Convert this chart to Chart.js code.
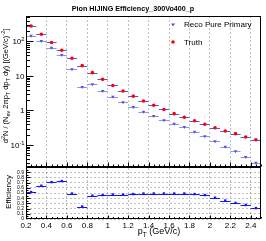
<!DOCTYPE html>
<html>
<head>
<meta charset="utf-8">
<script src="https://cdn.jsdelivr.net/npm/chart.js@4.4.1/dist/chart.umd.min.js"></script>
<style>
  html, body { margin: 0; padding: 0; background: #fff; }
  canvas { display: block; }
</style>
</head>
<body>
<canvas id="c" width="266" height="241"></canvas>
<script>
// pT bin centres (bins are 0.1 GeV/c wide)
const ptBins = [0.25, 0.35, 0.45, 0.55, 0.65, 0.75, 0.85, 0.95, 1.05, 1.15, 1.25, 1.35,
                1.45, 1.55, 1.65, 1.75, 1.85, 1.95, 2.05, 2.15, 2.25, 2.35, 2.45];
const binHalfWidth = 0.05;

// invariant yields
const truthYield = [281, 162, 93.5, 55.6, 32.6, 19.9, 12.5, 8.0, 5.3, 3.67, 2.60, 1.88,
                    1.42, 1.07, 0.81, 0.635, 0.506, 0.398, 0.317, 0.255, 0.213, 0.171, 0.142];
const recoYield = [147, 103, 66, 40.6, 15.6, 4.8, 5.8, 3.67, 2.51, 1.73, 1.26, 0.917,
                   0.693, 0.520, 0.414, 0.332, 0.243, 0.179, 0.128, 0.0893, 0.0657, 0.0449, 0.0307];

// efficiency
const efficiency = [0.52, 0.64, 0.71, 0.73, 0.49, 0.24, 0.45, 0.46, 0.47, 0.47, 0.48, 0.49,
                    0.49, 0.49, 0.49, 0.49, 0.48, 0.46, 0.41, 0.355, 0.31, 0.27, 0.21];

// axis ticks
const xTickValues = [0.2, 0.4, 0.6, 0.8, 1.0, 1.2, 1.4, 1.6, 1.8, 2.0, 2.2, 2.4];
const xTickLabels = ['0.2', '0.4', '0.6', '0.8', '1', '1.2', '1.4', '1.6', '1.8', '2', '2.2', '2.4'];
const yieldTickValues = [0.1, 1, 10, 100];
const yieldTickLabels = [['10', '-1'], ['1', ''], ['10', ''], ['10', '2']];
const effTickValues = [0, 0.1, 0.2, 0.3, 0.4, 0.5, 0.6, 0.7, 0.8, 0.9, 1.0];
const effTickLabels = ['0', '0.1', '0.2', '0.3', '0.4', '0.5', '0.6', '0.7', '0.8', '0.9', ''];

const FONT = 'Liberation Sans, Arial, Helvetica, sans-serif';
const recoColor = '#5252dc';
const recoBarColor = '#9494ec';
const truthColor = '#ff0000';
const truthBarColor = '#5a5ad8';
const effColor = '#1414ff';

const toPoints = arr => arr.map((v, i) => ({ x: ptBins[i], y: v }));

// draw text pieces with sub/superscripts, anchored at (x, y) baseline
function richText(ctx, parts, x, y, size, align, weight) {
  const w = weight || '';
  const fontOf = k => `${w} ${k ? size * 0.72 : size}px ${FONT}`;
  const widths = parts.map(([t, k]) => { ctx.font = fontOf(k); return ctx.measureText(t).width; });
  const total = widths.reduce((a, b) => a + b, 0);
  let cx = align === 'center' ? x - total / 2 : (align === 'right' ? x - total : x);
  ctx.textAlign = 'left';
  ctx.textBaseline = 'alphabetic';
  parts.forEach(([t, k], i) => {
    ctx.font = fontOf(k);
    const dy = k === 1 ? -size * 0.42 : (k === -1 ? size * 0.28 : 0);
    ctx.fillText(t, cx, y + dy);
    cx += widths[i];
  });
  return total;
}

function hLine(ctx, x1, x2, y) {
  ctx.beginPath(); ctx.moveTo(x1, y); ctx.lineTo(x2, y); ctx.stroke();
}
function vLine(ctx, x, y1, y2) {
  ctx.beginPath(); ctx.moveTo(x, y1); ctx.lineTo(x, y2); ctx.stroke();
}

const rootPads = {
  id: 'rootPads',
  beforeDatasetsDraw(chart) {
    const ctx = chart.ctx;
    const xs = chart.scales.x;
    const bars = [
      { data: recoYield, scale: chart.scales.ySpec, color: recoBarColor },
      { data: truthYield, scale: chart.scales.ySpec, color: truthBarColor },
      { data: efficiency, scale: chart.scales.yEff, color: effColor }
    ];
    ctx.save();
    ctx.lineWidth = 1;
    bars.forEach(b => {
      ctx.strokeStyle = b.color;
      b.data.forEach((v, i) => {
        const y = Math.round(b.scale.getPixelForValue(v)) + 0.5;
        hLine(ctx, xs.getPixelForValue(ptBins[i] - binHalfWidth), xs.getPixelForValue(ptBins[i] + binHalfWidth), y);
      });
    });
    ctx.restore();
  },
  afterDraw(chart) {
    const ctx = chart.ctx;
    const xs = chart.scales.x, ys = chart.scales.ySpec, ye = chart.scales.yEff;
    const L = Math.round(xs.left) + 0.5, R = Math.round(xs.right) - 0.5;
    ctx.save();
    ctx.strokeStyle = '#000';
    ctx.fillStyle = '#000';
    ctx.lineWidth = 1;

    // pad frames
    const tT = Math.round(ys.top) + 0.5, tB = Math.round(ys.bottom) - 0.5;
    const bT = Math.round(ye.top) + 0.5, bB = Math.round(ye.bottom) - 0.5;
    ctx.strokeRect(L, tT, R - L, tB - tT);
    ctx.strokeRect(L, bT, R - L, bB - bT);

    // log-axis ticks (inside the frame)
    for (let d = -2; d <= 2; d++) {
      for (let m = 1; m <= 9; m++) {
        const v = m * Math.pow(10, d);
        if (v < ys.min || v > ys.max) continue;
        const y = Math.round(ys.getPixelForValue(v)) + 0.5;
        hLine(ctx, L, L + (m === 1 ? 7 : 3.5), y);
      }
    }
    // efficiency-axis ticks
    for (let k = 1; k < 20; k++) {
      const y = Math.round(ye.getPixelForValue(k * 0.05)) + 0.5;
      hLine(ctx, L, L + (k % 2 === 0 ? 4 : 2), y);
    }
    // x ticks
    for (let k = 0; k <= 46; k++) {
      const v = 0.2 + k * 0.05;
      const x = Math.round(xs.getPixelForValue(v)) + 0.5;
      const major = k % 4 === 0;
      vLine(ctx, x, bB, bB - (major ? 3 : 1.5));
      vLine(ctx, x, tB, tB - (major ? 4 : 2));
    }

    // yield tick labels with superscripts
    yieldTickLabels.forEach((lab, i) => {
      const y = ys.getPixelForValue(yieldTickValues[i]) + 3;
      richText(ctx, [[lab[0], 0], [lab[1], 1]], L - 2, y, 8, 'right');
    });

    // title
    ctx.fillStyle = '#000';
    richText(ctx, [['Pion HIJING Efficiency_300Vo400_p', 0]], 133, 10.5, 7.2, 'center', 'bold');

    // legend
    ctx.fillStyle = recoColor;
    ctx.beginPath();
    ctx.moveTo(171, 23.5); ctx.lineTo(175, 23.5); ctx.lineTo(173, 26.5); ctx.closePath(); ctx.fill();
    ctx.fillStyle = truthColor;
    ctx.beginPath(); ctx.arc(173, 42, 1.8, 0, Math.PI * 2); ctx.fill();
    ctx.fillStyle = '#000';
    richText(ctx, [['Reco Pure Primary', 0]], 184, 27, 8, 'left');
    richText(ctx, [['Truth', 0]], 184, 45, 8, 'left');

    // x title
    richText(ctx, [['p', 0], ['T', -1], [' (GeV/c)', 0]], 159, 234, 9, 'center');

    // y titles (rotated)
    ctx.save();
    ctx.translate(8, 86);
    ctx.rotate(-Math.PI / 2);
    richText(ctx, [['d', 0], ['2', 1], ['N / (N', 0], ['ev', -1], [' 2\u03C0p', 0], ['T', -1],
                   [' dp', 0], ['T', -1], [' dy) [(GeV/c)', 0], ['-2', 1], [']', 0]], 0, 0, 7.5, 'center');
    ctx.restore();
    ctx.save();
    ctx.translate(11, 192);
    ctx.rotate(-Math.PI / 2);
    richText(ctx, [['Efficiency', 0]], 0, 0, 8, 'center');
    ctx.restore();

    ctx.restore();
  }
};

const gridGray = 'rgba(0,0,0,0.25)';

new Chart(document.getElementById('c'), {
  type: 'scatter',
  data: {
    datasets: [
      { label: 'Reco Pure Primary', data: toPoints(recoYield), yAxisID: 'ySpec',
        pointStyle: 'triangle', rotation: 180, pointRadius: 2, borderWidth: 0,
        backgroundColor: recoColor },
      { label: 'Truth', data: toPoints(truthYield), yAxisID: 'ySpec',
        pointStyle: 'circle', pointRadius: 1.8, borderWidth: 0,
        backgroundColor: truthColor },
      { label: 'Efficiency', data: toPoints(efficiency), yAxisID: 'yEff',
        pointStyle: 'rect', pointRadius: 1.7, borderWidth: 0,
        backgroundColor: effColor }
    ]
  },
  options: {
    responsive: false,
    animation: false,
    devicePixelRatio: 1,
    layout: { padding: { top: 16, right: 5, left: 0, bottom: 0 } },
    plugins: { legend: { display: false }, tooltip: { enabled: false }, title: { display: false } },
    scales: {
      x: {
        type: 'linear', min: 0.2, max: 2.5,
        afterBuildTicks: s => { s.ticks = xTickValues.map(v => ({ value: v })); },
        afterFit: s => { s.height = 22; },
        ticks: {
          autoSkip: false, maxRotation: 0, padding: 2, color: '#000',
          font: { size: 8, family: FONT },
          callback: (v, i) => xTickLabels[i]
        },
        grid: { color: gridGray, drawTicks: false, lineWidth: 1 },
        border: { display: false, dash: [2, 2] }
      },
      yEff: {
        type: 'linear', position: 'left', stack: 'pads', stackWeight: 52,
        min: 0, max: 1,
        afterBuildTicks: s => { s.ticks = effTickValues.map(v => ({ value: v })); },
        afterFit: s => { s.width = 26; },
        ticks: {
          autoSkip: false, padding: 2, color: '#000',
          font: { size: 5, family: FONT },
          callback: (v, i) => effTickLabels[i]
        },
        grid: { color: gridGray, drawTicks: false, lineWidth: 1 },
        border: { display: false, dash: [2, 2] }
      },
      ySpec: {
        type: 'logarithmic', position: 'left', stack: 'pads', stackWeight: 151,
        min: 0.023, max: 548,
        afterBuildTicks: s => { s.ticks = yieldTickValues.map(v => ({ value: v, major: true })); },
        afterFit: s => { s.width = 26; },
        ticks: { display: false },
        grid: { display: false },
        border: { display: false }
      }
    }
  },
  plugins: [rootPads]
});
</script>
</body>
</html>
